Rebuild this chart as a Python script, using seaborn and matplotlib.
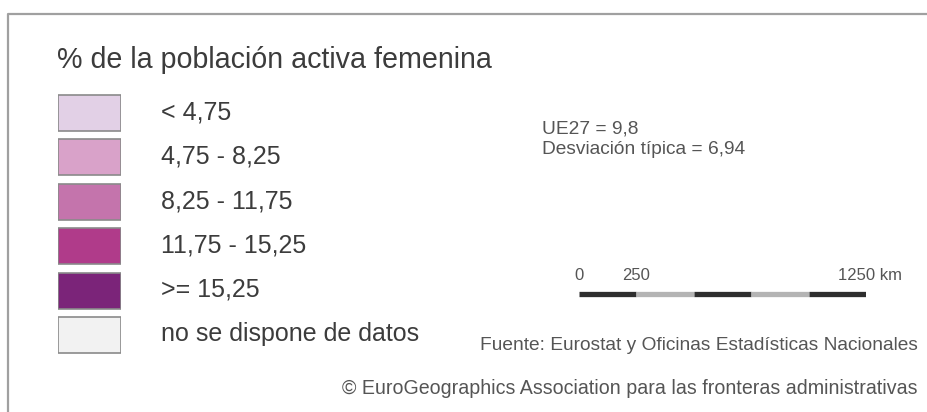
import matplotlib
matplotlib.use("Agg")
import matplotlib.pyplot as plt
import seaborn as sns

sns.set_theme(style="white")
plt.rcParams["font.family"] = ["Liberation Sans", "DejaVu Sans"]

# legend classes
titulo = "% de la población activa femenina"
clases = ["< 4,75", "4,75 - 8,25", "8,25 - 11,75", "11,75 - 15,25", ">= 15,25",
          "no se dispone de datos"]
colores = ["#e2d0e6", "#d9a2c9", "#c474ac", "#b03b8a", "#7b2479", "#f2f2f2"]

# statistics
ue27 = "9,8"
desviacion = "6,94"

# scale bar
escala_km = [0, 250, 500, 750, 1000, 1250]
escala_col = ["#2e2e2e", "#b4b4b4", "#2e2e2e", "#b4b4b4", "#2e2e2e"]
escala_ticks = [0, 250, 1250]

fuente = "Fuente: Eurostat y Oficinas Estadísticas Nacionales"
copyright_txt = "© EuroGeographics Association para las fronteras administrativas"

W, H = 927, 412
fig = plt.figure(figsize=(W / 100, H / 100), dpi=100)

# base layer in pixel coordinates
ax = fig.add_axes([0, 0, 1, 1])
ax.set_xlim(0, W)
ax.set_ylim(H, 0)
ax.axis("off")
ax.plot([8.5, 8.5, W], [H, 13.5, 13.5], color="#a0a0a0", lw=1.6, solid_capstyle="butt")

txt = "#3c3c3c"
small = "#555555"
ax.text(57, 60, titulo, fontsize=20.6, color=txt, va="center", ha="left")

# swatches
pitch = 44.5
sw = fig.add_axes([58 / W, (H - 357.5) / H, 63 / W, 6 * pitch / H])
sns.barplot(x=[1] * len(clases), y=clases, hue=clases, palette=colores,
            saturation=1, orient="h", width=0.8, edgecolor="#8a8a8a",
            linewidth=1.2, legend=False, ax=sw)
sw.set_xlim(0, 1)
sw.axis("off")

for i, c in enumerate(clases):
    ax.text(161, 112 + i * pitch, c, fontsize=18, color=txt, va="center", ha="left")

ax.text(542, 129, f"UE27 = {ue27}", fontsize=13.8, color=small, va="center")
ax.text(542, 149, f"Desviación típica = {desviacion}", fontsize=13.8, color=small,
        va="center")

# scale bar axes, km units
sb = fig.add_axes([579 / W, (H - 310) / H, (866 - 579) / W, 50 / H])
sb.set_xlim(0, 1250)
sb.set_ylim(0, 1)
sb.axis("off")
for k in range(len(escala_col)):
    sb.plot(escala_km[k:k + 2], [0.32, 0.32], color=escala_col[k], lw=3.8,
            solid_capstyle="butt")
for t in escala_ticks:
    if t == escala_ticks[-1]:
        sb.text(t - 122, 0.7, f"{t} km", fontsize=12, color=small, ha="left", va="center")
    else:
        sb.text(t, 0.7, str(t), fontsize=12, color=small, ha="center", va="center")

ax.text(918, 346, fuente, fontsize=13.8, color=small, ha="right", va="center")
ax.text(918, 388, copyright_txt, fontsize=14.1, color=small, ha="right", va="center")

fig.savefig("out.png", dpi=100, facecolor="white")
